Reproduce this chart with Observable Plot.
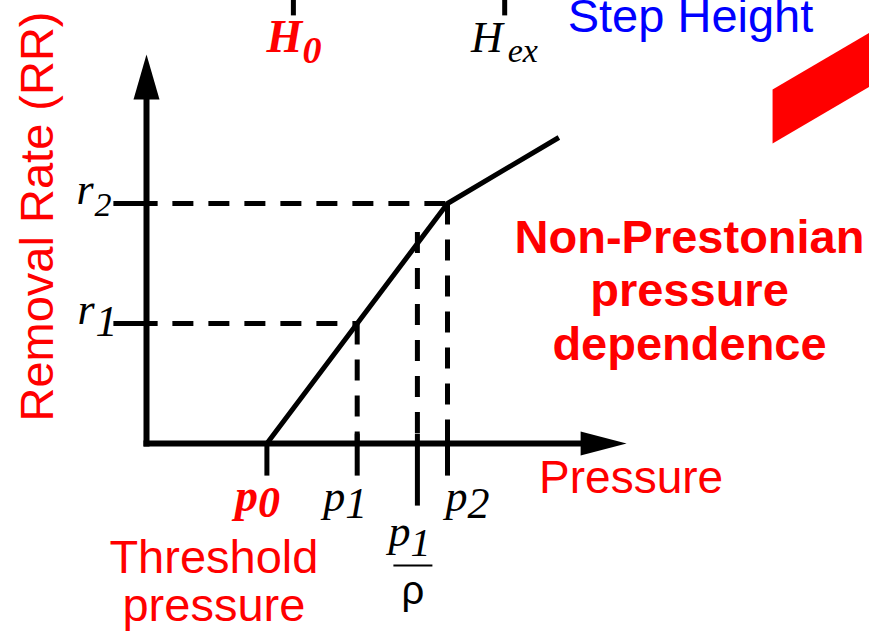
<!DOCTYPE html>
<html>
<head>
<meta charset="utf-8">
<script src="https://cdn.jsdelivr.net/npm/d3@7"></script>
<script src="https://cdn.jsdelivr.net/npm/@observablehq/plot@0.6"></script>
<style>
  body { margin: 0; background: #fff; }
  svg { display: block; }
</style>
</head>
<body>
<div id="chart"></div>
<script>
// Pressure positions marked on the horizontal axis (arbitrary units)
const pressureKeys = ["p0", "p1", "p1/rho", "p2"];
const pressureValues = [4, 7, 9, 10];

// Removal-rate levels marked on the vertical axis
const rateKeys = ["r1", "r2"];
const rateValues = [4, 8];

// Removal-rate response: zero up to threshold p0, linear through p1 to p2, then shallower
const curvePressure = [4, 7, 10, 13.7];
const curveRate = [0, 4, 8, 10.2];

// Where the p1/rho guide line stops
const rhoGuideTop = 7.05;

// Step-height marks along the top edge
const stepKeys = ["H0", "Hex"];
const stepValues = [4.88, 11.9];

// Axis tips
const xAxisEnd = 15.95;
const yAxisEnd = 12.97;

// Red band in the upper-right corner
const bandX = [20.8, 25.05, 25.05, 20.8];
const bandY = [11.8, 14.3, 12.5, 10.0];

const P = Object.fromEntries(pressureKeys.map((k, i) => [k, pressureValues[i]]));
const R = Object.fromEntries(rateKeys.map((k, i) => [k, rateValues[i]]));
const H = Object.fromEntries(stepKeys.map((k, i) => [k, stepValues[i]]));

const curve = curvePressure.map((p, i) => ({p, rr: curveRate[i]}));
const band = bandX.map((x, i) => ({x, y: bandY[i]}));

// Filled arrowheads whose tip sits on the dot position
const arrowUp = {draw(ctx) { ctx.moveTo(0, 0); ctx.lineTo(13, 45); ctx.lineTo(-13, 45); ctx.closePath(); }};
const arrowRight = {draw(ctx) { ctx.moveTo(0, 0); ctx.lineTo(-46, -12); ctx.lineTo(-46, 12); ctx.closePath(); }};
// Fraction bar for p1/rho
const fractionBar = {draw(ctx) { ctx.moveTo(-19.5, 0); ctx.lineTo(19.5, 0); }};

const dash = "21,15";
const serif = "'Liberation Serif', 'Times New Roman', serif";
const sans = "'Liberation Sans', Arial, Helvetica, sans-serif";

// Italic symbol with a subscript, anchored on a data point
function mathLabel({x, y, base, sub, fill = "black", bold = false, size, subSize, dx, dy, subDx, subDy}) {
  const common = {x: "x", y: "y", fontFamily: serif, fontStyle: "italic", fontWeight: bold ? "bold" : "normal", fill, lineAnchor: "bottom"};
  return [
    Plot.text([{x, y}], {...common, text: () => base, textAnchor: "end", fontSize: size, dx, dy}),
    Plot.text([{x, y}], {...common, text: () => sub, textAnchor: "start", fontSize: subSize, dx: subDx ?? dx, dy: subDy})
  ];
}

// Guide lines from the curve down to the pressure axis and across to the rate axis
const verticalGuides = [
  {x: P.p1, top: R.r1},
  {x: P["p1/rho"], top: rhoGuideTop},
  {x: P.p2, top: R.r2}
];
const horizontalGuides = [
  {y: R.r1, right: P.p1},
  {y: R.r2, right: P.p2}
];
const guideStart = 0.86;

// Tick marks on the pressure axis (top and bottom extent)
const pressureTicks = [
  {x: P.p0, top: 0, bottom: -1.07},
  {x: P.p1, top: 0.33, bottom: -1.07},
  {x: P["p1/rho"], top: 0.33, bottom: -2.07},
  {x: P.p2, top: 0.33, bottom: -1.07}
];
const rateTicks = rateValues.map(v => ({y: v}));
const stepTicks = stepValues.map(v => ({x: v}));

const chart = Plot.plot({
  width: 869,
  height: 632,
  margin: 0,
  x: {domain: [0, 10], range: [146, 447], axis: null},
  y: {domain: [0, 8], range: [443, 203], axis: null},
  marks: [
    // red band
    Plot.line(band, {x: "x", y: "y", fill: "#ff0000", stroke: "none"}),

    // dashed guides
    Plot.link(verticalGuides, {x1: "x", x2: "x", y1: "top", y2: () => 0, stroke: "black", strokeWidth: 5, strokeDasharray: dash}),
    Plot.link(horizontalGuides, {x1: () => guideStart, x2: "right", y1: "y", y2: "y", stroke: "black", strokeWidth: 5, strokeDasharray: dash}),

    // axes
    Plot.link([{}], {x1: () => 0, x2: () => 0, y1: () => -0.1, y2: () => yAxisEnd - 1.4, stroke: "black", strokeWidth: 6}),
    Plot.link([{}], {x1: () => -0.1, x2: () => xAxisEnd - 1.45, y1: () => 0, y2: () => 0, stroke: "black", strokeWidth: 6}),
    Plot.dot([{}], {x: () => 0, y: () => yAxisEnd, symbol: arrowUp, fill: "black", stroke: "none"}),
    Plot.dot([{}], {x: () => xAxisEnd, y: () => 0, symbol: arrowRight, fill: "black", stroke: "none"}),

    // ticks
    Plot.link(pressureTicks, {x1: "x", x2: "x", y1: "top", y2: "bottom", stroke: "black", strokeWidth: 5}),
    Plot.link(rateTicks, {x1: () => -1.1, x2: () => 0.37, y1: "y", y2: "y", stroke: "black", strokeWidth: 5}),
    Plot.link(stepTicks, {x1: "x", x2: "x", y1: () => 14.27, y2: () => 15.2, stroke: "black", strokeWidth: 5}),

    // removal-rate curve
    Plot.line(curve, {x: "p", y: "rr", stroke: "black", strokeWidth: 5, strokeLinecap: "butt", strokeLinejoin: "miter"}),

    // symbol labels
    ...mathLabel({x: P.p0, y: 0, base: "p", sub: "0", fill: "#ff0000", bold: true, size: 46, subSize: 44, dx: -9, dy: 67, subDy: 73}),
    ...mathLabel({x: P.p1, y: 0, base: "p", sub: "1", size: 44, subSize: 44, dx: -12, dy: 67, subDy: 74}),
    ...mathLabel({x: P.p2, y: 0, base: "p", sub: "2", size: 44, subSize: 44, dx: 20, dy: 67, subDy: 74}),
    ...mathLabel({x: P["p1/rho"], y: 0, base: "p", sub: "1", size: 44, subSize: 40, dx: -7, dy: 102, subDy: 112}),
    ...mathLabel({x: 0, y: R.r1, base: "r", sub: "1", size: 44, subSize: 44, dx: -52, dy: 0, subDx: -51, subDy: 12}),
    ...mathLabel({x: 0, y: R.r2, base: "r", sub: "2", size: 44, subSize: 34, dx: -53, dy: 0, subDx: -52, subDy: 12}),
    ...mathLabel({x: H.H0, y: 14.27, base: "H", sub: "0", fill: "#ff0000", bold: true, size: 46, subSize: 38, dx: 9, dy: 37, subDy: 48}),
    ...mathLabel({x: H.Hex, y: 14.27, base: "H", sub: "ex", size: 44, subSize: 34, dx: -2, dy: 37, subDx: 3, subDy: 47}),

    // fraction p1 / rho
    Plot.dot([{}], {x: () => P["p1/rho"], y: () => 0, symbol: fractionBar, stroke: "black", strokeWidth: 2, fill: "none", dx: -4.5, dy: 122}),
    Plot.text(["ρ"], {x: () => P["p1/rho"], y: () => 0, text: d => d, fontFamily: sans, fontSize: 40, fill: "black", textAnchor: "middle", lineAnchor: "bottom", dx: -4.5, dy: 160}),

    // annotations
    Plot.text(["Removal Rate (RR)"], {x: () => 0, y: () => 0, text: d => d, rotate: -90, fontFamily: sans, fontSize: 47, fill: "#ff0000", textAnchor: "middle", lineAnchor: "bottom", dx: -94, dy: -227}),
    Plot.text(["Pressure"], {x: () => xAxisEnd, y: () => 0, text: d => d, fontFamily: sans, fontSize: 46, fill: "#ff0000", textAnchor: "middle", lineAnchor: "bottom", dx: 4.5, dy: 49}),
    Plot.text(["Threshold\npressure"], {x: () => P.p0, y: () => 0, text: d => d, fontFamily: sans, fontSize: 47, lineHeight: 1.02, fill: "#ff0000", textAnchor: "middle", lineAnchor: "bottom", dx: -53, dy: 177}),
    Plot.text(["Non-Prestonian\npressure\ndependence"], {x: () => P.p2, y: () => R.r2, text: d => d, fontFamily: sans, fontWeight: "bold", fontSize: 47, lineHeight: 1.128, fill: "#ff0000", textAnchor: "middle", lineAnchor: "bottom", dx: 242, dy: 156}),
    Plot.text(["Step Height"], {x: () => H.Hex, y: () => 14.27, text: d => d, fontFamily: sans, fontSize: 47, fill: "#0000ff", textAnchor: "start", lineAnchor: "bottom", dx: 63, dy: 17})
  ]
});

document.getElementById("chart").appendChild(chart);
</script>
</body>
</html>
